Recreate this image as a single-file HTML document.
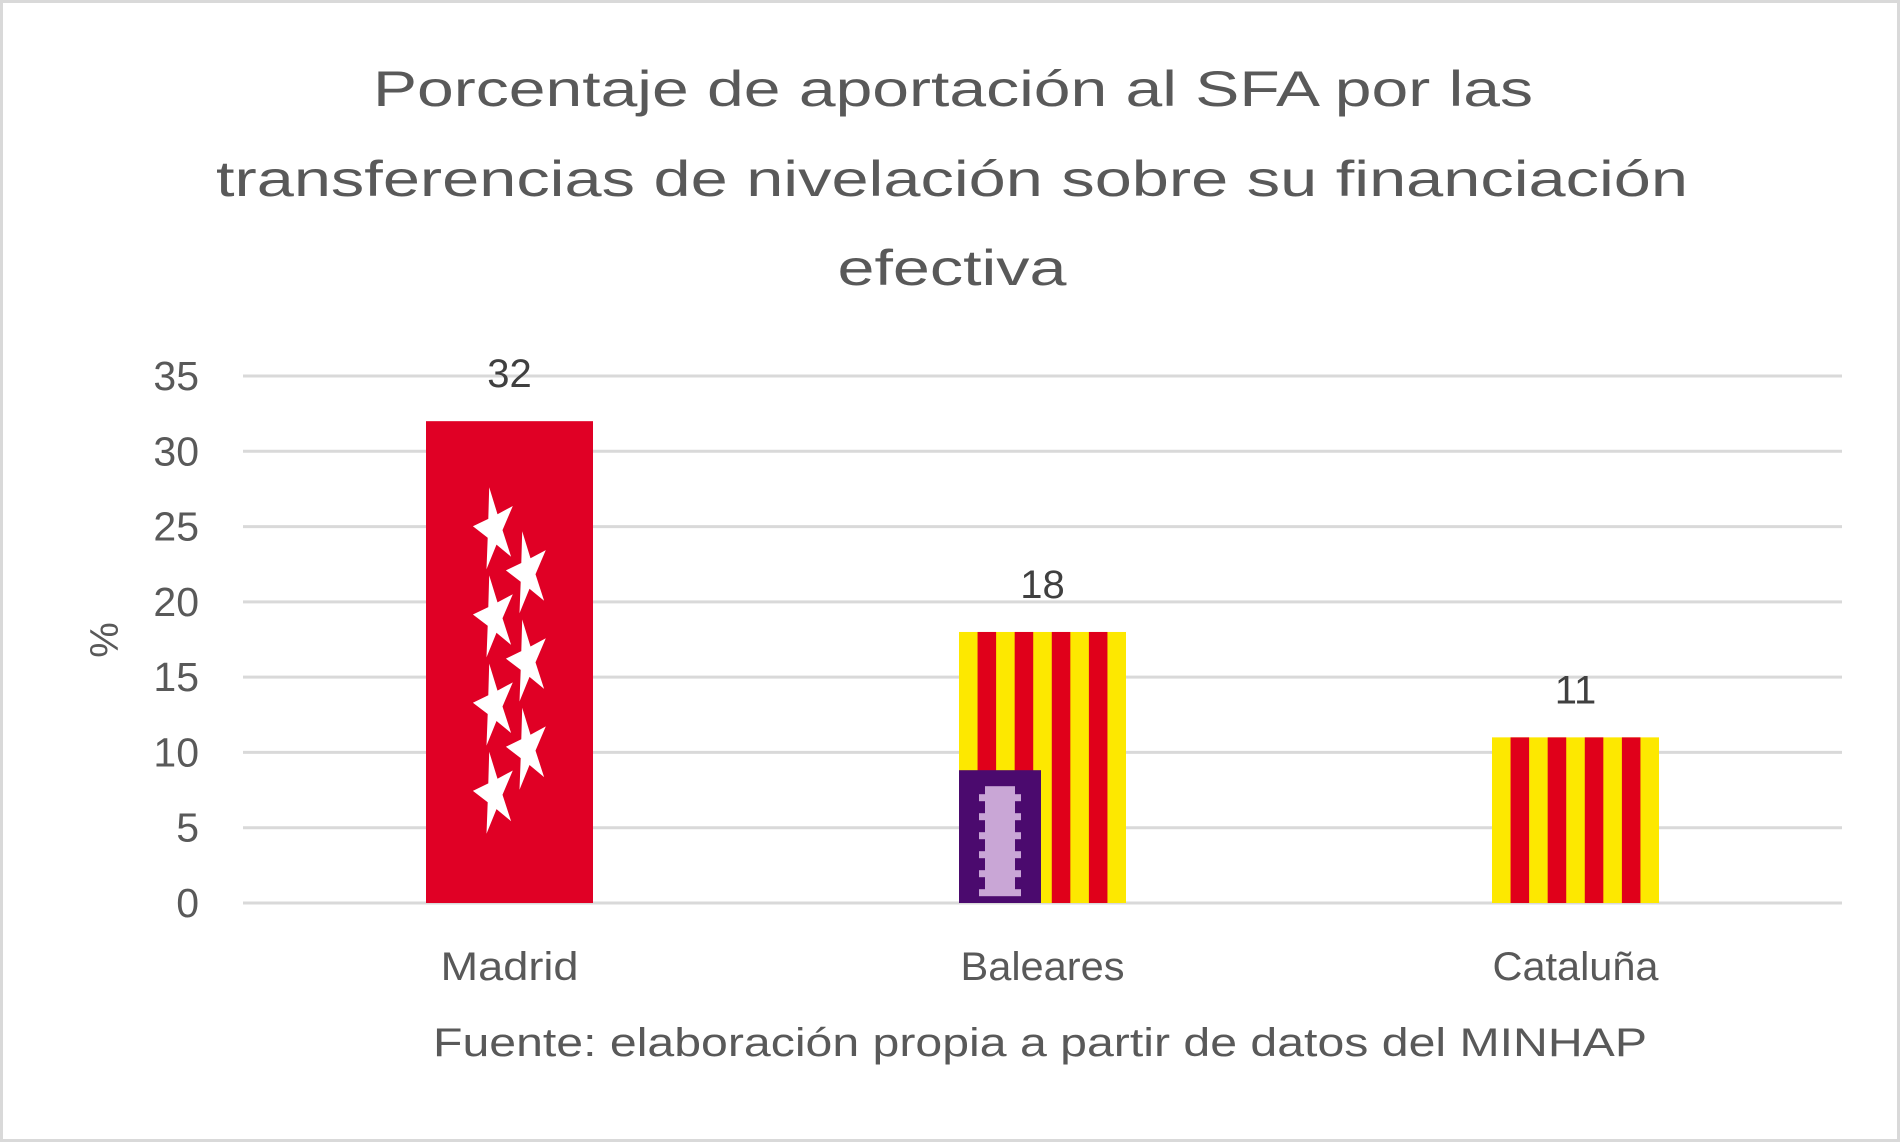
<!DOCTYPE html>
<html><head><meta charset="utf-8"><style>
html,body{margin:0;padding:0;background:#fff}
svg{display:block;font-family:"Liberation Sans",sans-serif}
</style></head><body>
<svg id="chart" width="1900" height="1142" viewBox="0 0 1900 1142">
<rect x="1.5" y="1.5" width="1897" height="1139" fill="#fff" stroke="#d9d9d9" stroke-width="3"/>
<g fill="#595959" font-size="50" text-anchor="middle">
<text x="953" y="106" textLength="1160" lengthAdjust="spacingAndGlyphs">Porcentaje de aportación al SFA por las</text>
<text x="952" y="196" textLength="1472" lengthAdjust="spacingAndGlyphs">transferencias de nivelación sobre su financiación</text>
<text x="952" y="285" textLength="229" lengthAdjust="spacingAndGlyphs">efectiva</text>
</g>
<g id="grid"></g>
<g id="bars"></g>
<text x="0" y="0" transform="translate(118,640) rotate(-90)" font-size="40" fill="#595959" text-anchor="middle">%</text>
<text x="1040" y="1056" font-size="40" fill="#595959" text-anchor="middle" textLength="1214" lengthAdjust="spacingAndGlyphs">Fuente: elaboración propia a partir de datos del MINHAP</text>
</svg>
<script>
const categories = ["Madrid", "Baleares", "Cataluña"];
const values = [32, 18, 11];
const valueLabels = ["32", "18", "11"];
const ticks = [0, 5, 10, 15, 20, 25, 30, 35];

const NS = "http://www.w3.org/2000/svg";
const gGrid = document.getElementById("grid");
const gBars = document.getElementById("bars");
const plotL = 243, plotR = 1842, plotTop = 376, plotBot = 903, yMax = 35;
const y = v => plotBot - v / yMax * (plotBot - plotTop);
const band = (plotR - plotL) / categories.length;
const xc = i => plotL + band * (i + 0.5);
const barW = 167;
function mk(tag, attrs, parent) {
  const e = document.createElementNS(NS, tag);
  for (const k in attrs) e.setAttribute(k, attrs[k]);
  parent.appendChild(e);
  return e;
}
ticks.forEach(t => {
  const l = mk("line", {x1: plotL, x2: plotR, y1: y(t), y2: y(t), stroke: "#d9d9d9", "stroke-width": 3}, gGrid);
  
  
  const tx = mk("text", {x: 199, y: y(t) + 14, "font-size": 41, fill: "#595959", "text-anchor": "end"}, gGrid);
  tx.textContent = t;
  
  
});
function star(cx, cy, parent) {
  let pts = [];
  for (let k = 0; k < 10; k++) {
    const a = -Math.PI / 2 + k * Math.PI / 5 - 0.25;
    const r = k % 2 ? 10 : 27;
    pts.push((cx + r * Math.cos(a) * 0.8).toFixed(1) + "," + (cy + r * Math.sin(a) * 1.6).toFixed(1));
  }
  const p = mk("polygon", {points: pts.join(" "), fill: "#fff"}, parent);
  
  
}
function stripes(x0, top, h, parent) {
  const n = 9, sw = barW / n;
  const bg = mk("rect", {x: x0, y: top, width: barW, height: h, fill: "#fde800"}, parent);
  
  
  for (let k = 1; k < n; k += 2) {
    const s = mk("rect", {x: x0 + k * sw, y: top, width: sw, height: h, fill: "#e0001a"}, parent);
    
    
  }
}
const labelWidths = [138, 164, 166];
categories.forEach((c, i) => {
  const g = mk("g", {}, gBars);
  
  
  const x0 = xc(i) - barW / 2, top = y(values[i]), h = plotBot - top;
  if (i === 0) {
    const r = mk("rect", {x: x0, y: top, width: barW, height: h, fill: "#e00025"}, g);
    
    
    [0, 2, 4, 6].forEach(k => star(xc(i) - 15, top + h * (0.224 + k * 0.0915), g));
    [1, 3, 5].forEach(k => star(xc(i) + 18, top + h * (0.224 + k * 0.0915), g));
  } else {
    stripes(x0, top, h, g);
    if (i === 1) {
      const ph = h * 0.49;
      const r = mk("rect", {x: x0, y: plotBot - ph, width: 82, height: ph, fill: "#4b0a6e"}, g);
      
      
      const c2 = mk("rect", {x: x0 + 26, y: plotBot - ph + 16, width: 30, height: ph - 28, fill: "#c9a6d6"}, g);
      
      
      for (let k = 0; k < 6; k++) {
        const m = mk("rect", {x: x0 + 20, y: plotBot - ph + 24 + k * 19, width: 42, height: 7, fill: "#c9a6d6"}, g);
        
        
      }
    }
  }
  const vl = mk("text", {x: xc(i), y: top - 34, "font-size": 40, fill: "#404040", "text-anchor": "middle"}, gBars);
  vl.textContent = valueLabels[i];
  
  
  const cl = mk("text", {x: xc(i), y: 980, "font-size": 40, fill: "#595959", "text-anchor": "middle", textLength: labelWidths[i], lengthAdjust: "spacingAndGlyphs"}, gBars);
  cl.textContent = c;
  
  
});
</script>
</body></html>
